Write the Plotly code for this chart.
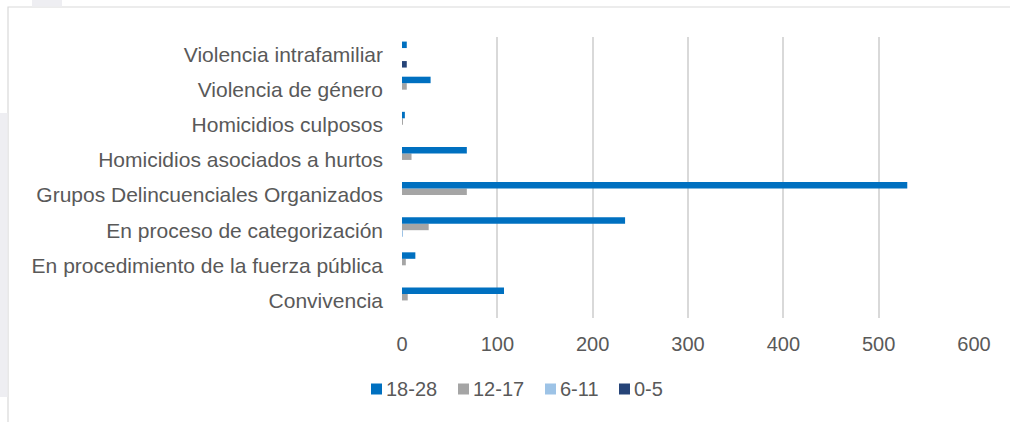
import plotly.graph_objects as go

# Categories, bottom to top as they appear on the axis
categorias = [
    "Convivencia",
    "En procedimiento de la fuerza pública",
    "En proceso de categorización",
    "Grupos Delincuenciales Organizados",
    "Homicidios asociados a hurtos",
    "Homicidios culposos",
    "Violencia de género",
    "Violencia intrafamiliar",
]

# Counts per age group (same order as categorias)
edad_18_28 = [107, 14, 234, 530, 68, 3, 30, 5]
edad_12_17 = [6, 4, 28, 68, 10, 1, 5, 0]
edad_6_11 = [0, 0, 1, 0, 0, 0, 0, 0]
edad_0_5 = [0, 0, 0, 0, 0, 0, 0, 5]

series = [
    ("0-5", edad_0_5, "#264478"),
    ("6-11", edad_6_11, "#9DC3E6"),
    ("12-17", edad_12_17, "#A5A5A5"),
    ("18-28", edad_18_28, "#0070C0"),
]

x_ticks = [0, 100, 200, 300, 400, 500, 600]

W, H = 1010, 422
L, R, T, B = 402, 36, 37, 104
FONT = "Liberation Sans, Arial, sans-serif"
TXT = "#595959"

fig = go.Figure()
for name, vals, color in series:
    fig.add_trace(go.Bar(
        y=categorias, x=vals, name=name, orientation="h",
        marker=dict(color=color, line=dict(width=0)),
        showlegend=False,
    ))

# pixel -> paper helpers for the decorations
def px(xp):
    return (xp - L) / (W - L - R)

def py(yp):
    return 1 - (yp - T) / (H - T - B)

shapes = [
    # outer frame
    dict(type="rect", xref="paper", yref="paper",
         x0=px(8), x1=px(1015), y0=py(430), y1=py(7),
         line=dict(color="#D9D9D9", width=1.2), fillcolor="rgba(0,0,0,0)", layer="below"),
    # light background blocks at the page edge
    dict(type="rect", xref="paper", yref="paper",
         x0=px(32), x1=px(62), y0=py(6.5), y1=py(-2),
         line=dict(width=0), fillcolor="#EEEEF2", layer="below"),
    dict(type="rect", xref="paper", yref="paper",
         x0=px(-2), x1=px(7.5), y0=py(397), y1=py(113),
         line=dict(width=0), fillcolor="#EEEEF2", layer="below"),
]

# legend drawn as swatch + label pairs along one row
legend_items = [("18-28", "#0070C0", 371), ("12-17", "#A5A5A5", 458),
                ("6-11", "#9DC3E6", 545), ("0-5", "#264478", 619)]
LEG_Y = 389
annotations = []
for name, color, x0 in legend_items:
    shapes.append(dict(
        type="rect", xref="paper", yref="paper",
        x0=px(x0), x1=px(x0 + 11), y0=py(LEG_Y + 5.5), y1=py(LEG_Y - 5.5),
        line=dict(width=0), fillcolor=color,
    ))
    annotations.append(dict(
        text=name, xref="paper", yref="paper",
        x=px(x0 + 13), y=py(LEG_Y), xanchor="left", yanchor="middle",
        showarrow=False, font=dict(family=FONT, size=20, color=TXT),
    ))

fig.update_layout(
    width=W, height=H,
    margin=dict(l=L, r=R, t=T, b=B),
    paper_bgcolor="white", plot_bgcolor="white",
    barmode="group", bargap=0.26, bargroupgap=0,
    font=dict(family=FONT, size=20, color=TXT),
    shapes=shapes,
    annotations=annotations,
    xaxis=dict(
        range=[0, 600], tickvals=x_ticks, ticktext=[str(v) for v in x_ticks],
        showgrid=True, gridcolor="#D9D9D9", gridwidth=2,
        zeroline=False, showline=False, ticks="", ticklabelstandoff=12,
        tickfont=dict(family=FONT, size=20, color=TXT), fixedrange=True,
    ),
    yaxis=dict(
        categoryorder="array", categoryarray=categorias,
        showgrid=False, zeroline=False, showline=False, ticks="",
        ticklabelstandoff=18,
        tickfont=dict(family=FONT, size=21, color=TXT), fixedrange=True,
    ),
)

fig.write_html("out.html")
